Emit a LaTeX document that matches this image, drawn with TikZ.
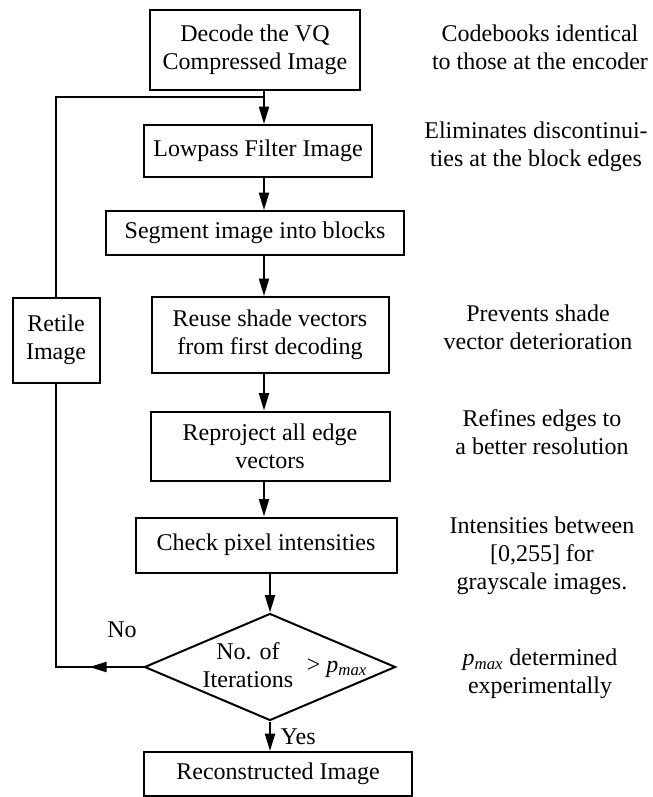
\documentclass[tikz,border=0pt]{standalone}
\usepackage{fontspec}
\setmainfont{Liberation Serif}
\usetikzlibrary{arrows.meta,shapes.geometric,decorations.markings}

\begin{document}
\begin{tikzpicture}[x=0.75pt,y=0.75pt,yscale=-1,xscale=1,
  every node/.style={font=\fontsize{18}{21}\selectfont},
  box/.style={draw,line width=1.5pt,inner sep=0pt,align=center},
  note/.style={align=center},
  line/.style={line width=1.5pt,line cap=rect},
  arr/.style={line width=1.5pt,-{Triangle[length=13pt,width=7.5pt]}},
  midarrow/.style={postaction={decorate},decoration={markings,mark=at position 0.62 with {\arrow{Triangle[length=13pt,width=7.5pt]}}}}]
\useasboundingbox (0,0) rectangle (653,797);

%main column
\node[box,minimum width=157.5pt,minimum height=60pt] (dec) at (255,50) {Decode the VQ\\Compressed Image};
\node[box,minimum width=171pt,minimum height=39pt] (low) at (258,151) {Lowpass Filter Image};
\node[box,minimum width=223.5pt,minimum height=33pt] (seg) at (255,233) {Segment image into blocks};
\node[box,minimum width=177.75pt,minimum height=57pt] (reuse) at (270,335) {Reuse shade vectors\\from first decoding};
\node[box,minimum width=179.25pt,minimum height=51.75pt] (reproj) at (270,446) {Reproject all edge\\vectors};
\node[box,minimum width=195.75pt,minimum height=41.25pt] (check) at (266,545) {Check pixel intensities};
\node[draw,diamond,line width=1.5pt,inner sep=0pt,minimum width=188.25pt,minimum height=80.25pt] (cond) at (270,667) {};
\node[note] (iter) at (248,665) {No. of\\Iterations};
\node (pmax) at (337,668) {> \textit{p}\textsubscript{\textit{max}}};
\node[box,minimum width=201pt,minimum height=33pt] (recon) at (278,774) {Reconstructed Image};

%loop back
\node[box,minimum width=65.25pt,minimum height=63.75pt] (retile) at (56,340) {Retile\\Image};

%remarks
\node[note] (n1) at (540,47) {Codebooks identical\\to those at the encoder};
\node[note] (n2) at (536,146.5) {Eliminates discontinui-\\ties at the block edges};
\node[note] (n3) at (538,327.5) {Prevents shade\\vector deterioration};
\node[note] (n4) at (542,432.5) {Refines edges to\\a better resolution};
\node[note] (n5) at (542,556) {Intensities between\\{}[0,255] for\\grayscale images.};
\node[note] (n6) at (540,674) {\textit{p}\textsubscript{\textit{max}} determined\\experimentally};

\node (no) at (122,630) {No};
\node[anchor=west] (yes) at (276,737) {Yes};

\coordinate (axis) at (264,0);
\coordinate (jn) at (264,97);
\coordinate (cnr) at (retile.south |- cond.west);

%flow
\draw[arr] (dec.south -| axis) -- (low.north -| axis);
\draw[arr] (low.south -| axis) -- (seg.north -| axis);
\draw[arr] (seg.south -| axis) -- (reuse.north -| axis);
\draw[arr] (reuse.south -| axis) -- (reproj.north -| axis);
\draw[arr] (reproj.south -| axis) -- (check.north -| axis);
\draw[arr] (check.south -| cond.north) -- (cond.north);
\draw[arr] (cond.south) -- (cond.south |- recon.north);

\draw[line,midarrow] (cond.west) -- (cnr);
\draw[line] (cnr) -- (retile.south);
\draw[line] (retile.north) |- (jn);

\end{tikzpicture}
\end{document}
